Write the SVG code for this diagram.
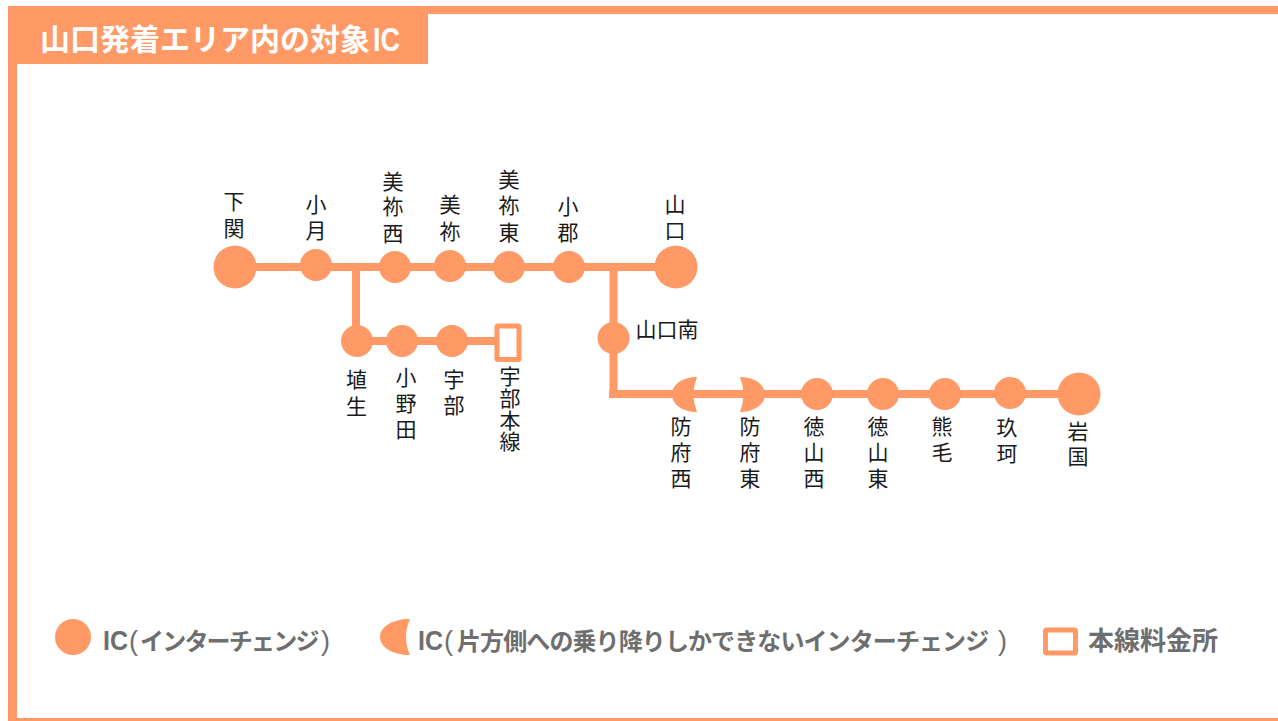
<svg xmlns="http://www.w3.org/2000/svg" width="1278" height="721" viewBox="0 0 1278 721">
<defs>
<style>
.o{fill:#ff9966}
.line{stroke:#ff9966;stroke-width:8;fill:none}
text{font-family:"Liberation Sans","Noto Sans CJK JP",sans-serif}
.l{font-size:21px;fill:#1a1a1a;text-anchor:middle}
.lg{font-size:24px;font-weight:700;fill:#6e6e6e}
.n{font-size:26px}
.ic{font-size:27px}
.p{font-size:27px;font-weight:400}
</style>
</defs>
<rect width="1278" height="721" fill="#fff"/>
<g id="frame" class="o">
<rect x="8" y="6" width="1270" height="8"/>
<rect x="8" y="6" width="9" height="715"/>
<rect x="8" y="718" width="1270" height="3"/>
<rect x="8" y="6" width="420" height="58"/>
</g>
<text id="title" y="50" font-size="30" font-weight="700" fill="#fff"><tspan x="40">山口発着エリア内の対象</tspan><tspan x="373" y="51" font-size="34" textLength="27" lengthAdjust="spacingAndGlyphs">IC</tspan></text>
<g id="connectors">
<path class="line" d="M235 267H676"/>
<path class="line" d="M356 267V341M356 341H500"/>
<path class="line" d="M613.500 267V398M609 394H1079"/>
</g>
<g id="shimonoseki"><circle class="o" cx="235" cy="267" r="21.500"/><text class="l"><tspan x="234" y="209">下</tspan><tspan x="234" y="236">関</tspan></text></g>
<g id="ozuki"><circle class="o" cx="316" cy="265" r="16"/><text class="l"><tspan x="316" y="212">小</tspan><tspan x="316" y="238">月</tspan></text></g>
<g id="minenishi"><circle class="o" cx="395" cy="267" r="16"/><text class="l"><tspan x="393" y="189">美</tspan><tspan x="393" y="214">祢</tspan><tspan x="393" y="241">西</tspan></text></g>
<g id="mine"><circle class="o" cx="450" cy="266" r="16"/><text class="l"><tspan x="450" y="212">美</tspan><tspan x="450" y="239">祢</tspan></text></g>
<g id="minehigashi"><circle class="o" cx="509" cy="267" r="16"/><text class="l"><tspan x="509" y="187">美</tspan><tspan x="509" y="213">祢</tspan><tspan x="509" y="240">東</tspan></text></g>
<g id="ogori"><circle class="o" cx="569" cy="267" r="16"/><text class="l"><tspan x="568" y="214">小</tspan><tspan x="568" y="240">郡</tspan></text></g>
<g id="yamaguchi"><circle class="o" cx="676" cy="267" r="21.500"/><text class="l"><tspan x="675" y="212">山</tspan><tspan x="675" y="238">口</tspan></text></g>
<g id="yamaguchiminami"><circle class="o" cx="613.500" cy="338" r="16"/><text class="l" style="text-anchor:start" x="635.500" y="337">山口南</text></g>
<g id="hanyu"><circle class="o" cx="357" cy="341" r="16"/><text class="l"><tspan x="356.500" y="387">埴</tspan><tspan x="356.500" y="414">生</tspan></text></g>
<g id="onoda"><circle class="o" cx="402" cy="341" r="16"/><text class="l"><tspan x="406" y="385">小</tspan><tspan x="406" y="411">野</tspan><tspan x="406" y="437">田</tspan></text></g>
<g id="ube"><circle class="o" cx="452" cy="341" r="16"/><text class="l"><tspan x="454" y="387">宇</tspan><tspan x="454" y="413">部</tspan></text></g>
<g id="ubehonsen"><rect x="497" y="326" width="22" height="33.500" rx="1" fill="#fff" stroke="#ff9966" stroke-width="5"/><text class="l"><tspan x="510" y="384">宇</tspan><tspan x="510" y="406">部</tspan><tspan x="510" y="428">本</tspan><tspan x="510" y="449">線</tspan></text></g>
<g id="hofunishi"><path class="o" d="M697 377C682 377 672 385 672 394.500C672 404 682 412 697 412Q690 394.500 697 377Z"/><text class="l"><tspan x="681" y="434">防</tspan><tspan x="681" y="460">府</tspan><tspan x="681" y="486">西</tspan></text></g>
<g id="hofuhigashi"><path class="o" d="M740 377C755 377 765 385 765 394.500C765 404 755 412 740 412Q747 394.500 740 377Z"/><text class="l"><tspan x="750" y="434">防</tspan><tspan x="750" y="460">府</tspan><tspan x="750" y="486">東</tspan></text></g>
<g id="tokuyamanishi"><circle class="o" cx="817" cy="394" r="16"/><text class="l"><tspan x="814" y="434">徳</tspan><tspan x="814" y="460">山</tspan><tspan x="814" y="486">西</tspan></text></g>
<g id="tokuyamahigashi"><circle class="o" cx="883" cy="394" r="16"/><text class="l"><tspan x="878" y="434">徳</tspan><tspan x="878" y="460">山</tspan><tspan x="878" y="486">東</tspan></text></g>
<g id="kumage"><circle class="o" cx="945" cy="394" r="16"/><text class="l"><tspan x="942" y="434">熊</tspan><tspan x="942" y="460">毛</tspan></text></g>
<g id="kuga"><circle class="o" cx="1010" cy="393" r="16"/><text class="l"><tspan x="1007" y="435">玖</tspan><tspan x="1007" y="461">珂</tspan></text></g>
<g id="iwakuni"><circle class="o" cx="1079" cy="394" r="21.500"/><text class="l"><tspan x="1078" y="439">岩</tspan><tspan x="1078" y="464">国</tspan></text></g>
<g id="legend">
<circle class="o" cx="73" cy="637" r="18"/>
<text class="lg" y="650"><tspan class="ic" x="103" textLength="25" lengthAdjust="spacingAndGlyphs">IC</tspan><tspan class="p" x="129">(</tspan><tspan x="140" letter-spacing="-1.800">インターチェンジ</tspan><tspan class="p" x="321">)</tspan></text>
<path class="o" d="M410 619C392 619 380 627 380 637C380 647 392 655 410 655Q402 637 410 619Z"/>
<text class="lg" y="650"><tspan class="ic" x="418" textLength="25" lengthAdjust="spacingAndGlyphs">IC</tspan><tspan class="p" x="444">(</tspan><tspan x="457" letter-spacing="-0.900">片方側への乗り降りしかできないインターチェンジ</tspan><tspan class="p" x="998">)</tspan></text>
<rect x="1045.500" y="630" width="30" height="23" rx="1" fill="#fff" stroke="#ff9966" stroke-width="5"/>
<text class="lg n" x="1088" y="650">本線料金所</text>
</g>
</svg>
